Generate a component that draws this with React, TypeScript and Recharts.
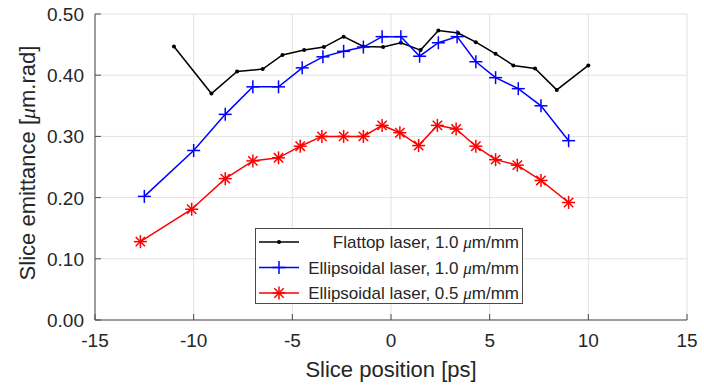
import React from "react";
import {
  LineChart,
  Line,
  XAxis,
  YAxis,
  CartesianGrid,
  Legend,
} from "recharts";

const flattopX = [-11, -9.1, -7.8, -6.5, -5.5, -4.4, -3.4, -2.4, -1.4, -0.4, 0.5, 1.5, 2.4, 3.4, 4.3, 5.3, 6.2, 7.3, 8.4, 10.0];
const flattopY = [0.447, 0.37, 0.406, 0.41, 0.433, 0.441, 0.446, 0.463, 0.447, 0.446, 0.453, 0.441, 0.473, 0.469, 0.454, 0.435, 0.416, 0.411, 0.376, 0.416];

const ellip10X = [-12.5, -10.0, -8.4, -7.0, -5.7, -4.5, -3.45, -2.4, -1.4, -0.45, 0.5, 1.45, 2.4, 3.35, 4.3, 5.3, 6.45, 7.6, 9.0];
const ellip10Y = [0.202, 0.277, 0.336, 0.381, 0.381, 0.412, 0.43, 0.439, 0.446, 0.463, 0.463, 0.431, 0.453, 0.463, 0.422, 0.396, 0.378, 0.35, 0.293];

const ellip05X = [-12.7, -10.1, -8.4, -7.0, -5.7, -4.6, -3.5, -2.4, -1.4, -0.45, 0.45, 1.4, 2.35, 3.3, 4.3, 5.3, 6.4, 7.6, 9.0];
const ellip05Y = [0.128, 0.181, 0.231, 0.26, 0.265, 0.284, 0.3, 0.3, 0.3, 0.318, 0.306, 0.285, 0.318, 0.312, 0.284, 0.262, 0.253, 0.228, 0.192];

const xTicks = [-15, -10, -5, 0, 5, 10, 15];
const yTicks = [0, 0.1, 0.2, 0.3, 0.4, 0.5];

const legendNames = [
  "Flattop laser, 1.0 ",
  "Ellipsoidal laser, 1.0 ",
  "Ellipsoidal laser, 0.5 ",
];

const FONT = "'Liberation Sans', Arial, Helvetica, sans-serif";
const TEXT = "#262626";
const AXIS = "#4a4a4a";
const GRID = "#e2e2e2";
const TICK_LEN = 6;

const zip = (xs: number[], ys: number[]) => xs.map((x, i) => ({ x, y: ys[i] }));
const flattopData = zip(flattopX, flattopY);
const ellip10Data = zip(ellip10X, ellip10Y);
const ellip05Data = zip(ellip05X, ellip05Y);

function PlusMark({ cx, cy, color, r = 6.5 }: any) {
  return (
    <g>
      <line x1={cx - r} y1={cy} x2={cx + r} y2={cy} stroke={color} strokeWidth={1.5} />
      <line x1={cx} y1={cy - r} x2={cx} y2={cy + r} stroke={color} strokeWidth={1.5} />
    </g>
  );
}

function StarMark({ cx, cy, color, r = 6.5 }: any) {
  const d = r * 0.72;
  return (
    <g>
      <line x1={cx} y1={cy - r} x2={cx} y2={cy + r} stroke={color} strokeWidth={1.5} />
      <line x1={cx - r} y1={cy} x2={cx + r} y2={cy} stroke={color} strokeWidth={1.5} />
      <line x1={cx - d} y1={cy - d} x2={cx + d} y2={cy + d} stroke={color} strokeWidth={1.5} />
      <line x1={cx - d} y1={cy + d} x2={cx + d} y2={cy - d} stroke={color} strokeWidth={1.5} />
    </g>
  );
}

function BottomTick({ x, y, payload }: any) {
  return (
    <g>
      <line x1={x} y1={y} x2={x} y2={y - TICK_LEN} stroke={AXIS} />
      <text x={x} y={y + 27} textAnchor="middle" fill={TEXT} fontSize={19} fontFamily={FONT}>
        {payload.value}
      </text>
    </g>
  );
}

function TopTick({ x, y }: any) {
  return <line x1={x} y1={y} x2={x} y2={y + TICK_LEN} stroke={AXIS} />;
}

function LeftTick({ x, y, payload }: any) {
  return (
    <g>
      <line x1={x} y1={y} x2={x + TICK_LEN} y2={y} stroke={AXIS} />
      <text x={x - 11} y={y + 7} textAnchor="end" fill={TEXT} fontSize={19} fontFamily={FONT}>
        {Number(payload.value).toFixed(2)}
      </text>
    </g>
  );
}

function RightTick({ x, y }: any) {
  return <line x1={x} y1={y} x2={x - TICK_LEN} y2={y} stroke={AXIS} />;
}

function Mu() {
  return (
    <tspan fontFamily="'Liberation Serif', 'Times New Roman', serif" fontStyle="italic">
      μ
    </tspan>
  );
}

function YLabel({ viewBox }: any) {
  const cx = viewBox.x + 27;
  const cy = viewBox.y + viewBox.height / 2 - 4;
  return (
    <text
      x={cx}
      y={cy}
      transform={`rotate(-90 ${cx} ${cy})`}
      textAnchor="middle"
      dominantBaseline="central"
      fill={TEXT}
      fontSize={22}
      fontFamily={FONT}
    >
      Slice emittance [<Mu />m.rad]
    </text>
  );
}

function XLabel({ viewBox }: any) {
  return (
    <text
      x={viewBox.x + viewBox.width / 2}
      y={viewBox.y + 57}
      textAnchor="middle"
      fill={TEXT}
      fontSize={22}
      fontFamily={FONT}
    >
      Slice position [ps]
    </text>
  );
}

function LegendBox() {
  const colors = ["#000000", "#0000ff", "#ff0000"];
  return (
    <svg width={268} height={76} style={{ display: "block" }}>
      <rect x={0.5} y={0.5} width={267} height={75} fill="#fff" stroke={AXIS} />
      {legendNames.map((name, i) => {
        const cy = 14 + i * 25.5;
        return (
          <g key={name}>
            <line x1={4} y1={cy} x2={44} y2={cy} stroke={colors[i]} strokeWidth={1.5} />
            {i === 0 && <circle cx={24} cy={cy} r={2} fill={colors[i]} />}
            {i === 1 && <PlusMark cx={24} cy={cy} color={colors[i]} />}
            {i === 2 && <StarMark cx={24} cy={cy} color={colors[i]} />}
            <text x={264} y={cy + 6} textAnchor="end" fill={TEXT} fontSize={17} fontFamily={FONT}>
              {name}
              <Mu />
              m/mm
            </text>
          </g>
        );
      })}
    </svg>
  );
}

export default function App() {
  return (
    <div style={{ position: "absolute", left: 0, top: 0, width: 704, height: 386, background: "#fff" }}>
      <LineChart width={704} height={386} margin={{ top: 14, right: 17, bottom: 0, left: 0 }}>
        <CartesianGrid stroke={GRID} strokeWidth={1} />
        <XAxis
          dataKey="x"
          type="number"
          domain={[-15, 15]}
          ticks={xTicks}
          height={66}
          tickSize={0}
          tickMargin={0}
          tick={<BottomTick />}
          axisLine={{ stroke: AXIS }}
          allowDuplicatedCategory={false}
          label={<XLabel />}
        />
        <XAxis
          xAxisId="top"
          orientation="top"
          dataKey="x"
          type="number"
          domain={[-15, 15]}
          ticks={xTicks}
          height={0}
          tickSize={0}
          tickMargin={0}
          tick={<TopTick />}
          axisLine={{ stroke: AXIS }}
        />
        <YAxis
          type="number"
          domain={[0, 0.5]}
          ticks={yTicks}
          width={95}
          tickSize={0}
          tickMargin={0}
          tick={<LeftTick />}
          axisLine={{ stroke: AXIS }}
          label={<YLabel />}
        />
        <YAxis
          yAxisId="right"
          orientation="right"
          type="number"
          domain={[0, 0.5]}
          ticks={yTicks}
          width={0}
          tickSize={0}
          tickMargin={0}
          tick={<RightTick />}
          axisLine={{ stroke: AXIS }}
        />
        <Line
          data={flattopData}
          dataKey="y"
          stroke="#000000"
          strokeWidth={1.5}
          isAnimationActive={false}
          dot={{ r: 2, fill: "#000000", stroke: "none" }}
          activeDot={false}
        />
        <Line
          data={ellip10Data}
          dataKey="y"
          stroke="#0000ff"
          strokeWidth={1.5}
          isAnimationActive={false}
          dot={(p: any) => <PlusMark key={`b${p.index}`} cx={p.cx} cy={p.cy} color="#0000ff" />}
          activeDot={false}
        />
        <Line
          data={ellip05Data}
          dataKey="y"
          stroke="#ff0000"
          strokeWidth={1.5}
          isAnimationActive={false}
          dot={(p: any) => <StarMark key={`r${p.index}`} cx={p.cx} cy={p.cy} color="#ff0000" />}
          activeDot={false}
        />
        <Legend
          layout="vertical"
          align="center"
          verticalAlign="middle"
          content={() => <LegendBox />}
          wrapperStyle={{ position: "absolute", left: 255, top: 228, width: 268, height: 76 }}
        />
      </LineChart>
    </div>
  );
}
